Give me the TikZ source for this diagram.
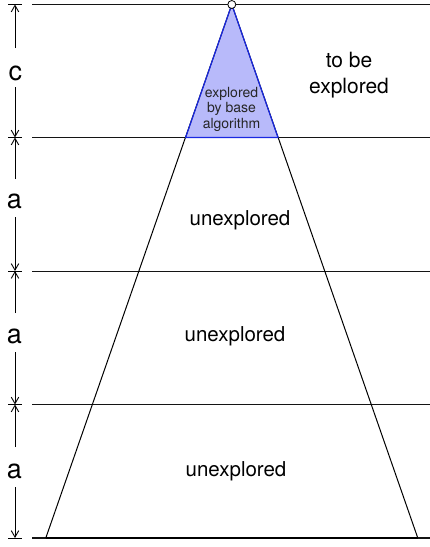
\documentclass[tikz,border=0pt]{standalone}
\usepackage{fontspec}
\setmainfont{TeX Gyre Heros}
\usetikzlibrary{arrows.meta}
\definecolor{basefill}{RGB}{184,186,250}
\definecolor{baseedge}{RGB}{25,40,225}
\definecolor{linegray}{RGB}{20,20,20}
\tikzset{
  level/.style={draw=linegray, line width=1pt},
  tick/.style={draw=black, line width=1pt},
  dimarrow/.style={draw=black, line width=0.8pt, -{Straight Barb[length=6.5pt,width=7.5pt,line width=0.9pt]}},
  dimlabel/.style={anchor=base, inner sep=0pt, font=\fontsize{27}{30}\selectfont},
  regionlabel/.style={anchor=base, inner sep=0pt, font=\fontsize{20.5}{25}\selectfont},
  smalllabel/.style={align=center, inner sep=0pt, font=\fontsize{14}{15.5}\selectfont},
}
\begin{document}
\begin{tikzpicture}[x=1pt,y=-1pt]
\useasboundingbox (0,0) rectangle (430,547);
% level coordinates
\coordinate (L0) at (32,4.5);   \coordinate (R0) at (430,4.5);
\coordinate (L1) at (32,137.5); \coordinate (R1) at (430,137.5);
\coordinate (L2) at (32,271);   \coordinate (R2) at (430,271);
\coordinate (L3) at (32,404.5); \coordinate (R3) at (430,404.5);
\coordinate (L4) at (32,538);   \coordinate (R4) at (430,538);
% triangle
\coordinate (A) at (231.8,4.5);
\coordinate (BL) at (45.8,538);
\coordinate (BR) at (417.8,538);
\coordinate (CL) at (185.6,137.5);
\coordinate (CR) at (278,137.5);
% horizontal lines
\draw[level] (L0) -- (R0);
\draw[level] (L1) -- (R1);
\draw[level] (L2) -- (R2);
\draw[level] (L3) -- (R3);
\draw[level, line width=1.4pt] (L4) -- (R4);
% explored by base algorithm
\fill[basefill] (A) -- (CL) -- (CR) -- cycle;
% outer triangle
\draw[black, line width=1pt] (BL) -- (A) -- (BR);
\draw[black, line width=1.4pt] (BL) -- (BR);
\draw[baseedge, line width=1.2pt, line join=round] (A) -- (CL) -- (CR) -- cycle;
\node[circle, draw=black, fill=white, line width=0.8pt, minimum size=8pt, inner sep=0pt] (apex) at (A) {};
% texts
\node[smalllabel, text=black!85] (base) at (231.5,109) {explored\\by base\\algorithm};
\node[align=center, inner sep=0pt, font=\fontsize{21}{26}\selectfont] (tbe) at (349,75) {to be\\explored};
\node[regionlabel] (u1) at (240,225) {unexplored};
\node[regionlabel] (u2) at (235,341) {unexplored};
\node[regionlabel] (u3) at (236,476) {unexplored};
% dimension line
\coordinate (T0) at (15,4.5);
\coordinate (T1) at (15,137.5);
\coordinate (T2) at (15,271);
\coordinate (T3) at (15,404.5);
\coordinate (T4) at (15,538);
\foreach \t in {T0,T1,T2,T3,T4} {
  \draw[tick] ([xshift=-7pt]\t) -- ([xshift=7pt]\t);
}
\node[dimlabel] (c) at (15.5,80) {c};
\node[dimlabel] (a1) at (14.5,208) {a};
\node[dimlabel] (a2) at (14.5,343) {a};
\node[dimlabel] (a3) at (14.5,478) {a};
\coordinate (cU) at (15,48);   \coordinate (cD) at (15,87);
\coordinate (a1U) at (15,179); \coordinate (a1D) at (15,217);
\coordinate (a2U) at (15,313); \coordinate (a2D) at (15,352);
\coordinate (a3U) at (15,447); \coordinate (a3D) at (15,487);
\draw[dimarrow] (cU) -- (T0);
\draw[dimarrow] (cD) -- (T1);
\draw[dimarrow] (a1U) -- (T1);
\draw[dimarrow] (a1D) -- (T2);
\draw[dimarrow] (a2U) -- (T2);
\draw[dimarrow] (a2D) -- (T3);
\draw[dimarrow] (a3U) -- (T3);
\draw[dimarrow] (a3D) -- (T4);
\end{tikzpicture}
\end{document}
